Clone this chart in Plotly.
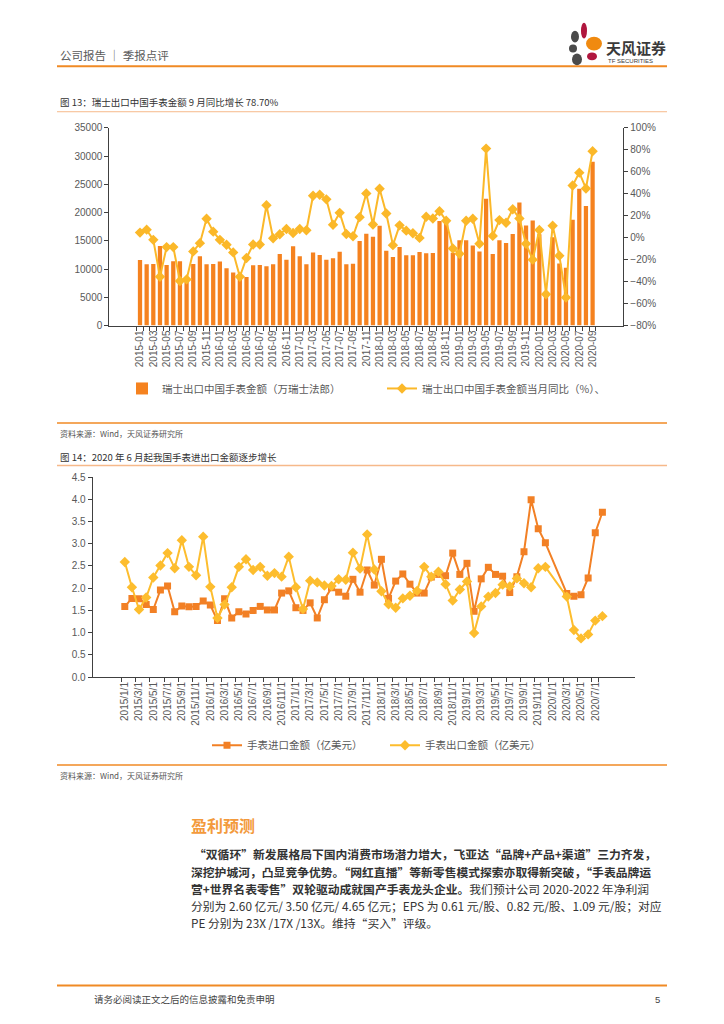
import plotly.graph_objects as go

W, H = 724, 1024

# ---------------- data: chart 1 (图13) ----------------
months1 = [f"{y}-{m:02d}" for y in range(2015, 2021) for m in range(1, 13)][:69]
swiss_export = [11600, 10850, 10900, 14100, 10700, 11400, 11400, 8000, 10900, 12250,
                10850, 10900, 11350, 10150, 9400, 8500, 8600, 10650, 10700, 10500,
                10850, 12650, 11650, 14050, 12250, 10850, 12950, 12500, 11650, 11900,
                13050, 10850, 10950, 14950, 16250, 15700, 17650, 13250, 12150, 13900,
                12450, 12450, 13000, 12800, 12850, 18500, 18400, 12900, 15100, 15100,
                14150, 13100, 22450, 12650, 15100, 14600, 16200, 21800, 17700, 18600,
                16150, 6000, 15650, 11000, 10250, 18750, 24200, 21150, 29000]
swiss_yoy = [4.6, 7.3, -2.0, -35.6, -8.6, -8.6, -39.5, -38.0, -12.5, -5.0,
             17.2, 5.5, -2.0, -6.5, -13.4, -35.6, -18.5, -6.2, -6.2, 29.5,
             -0.5, 3.1, 7.9, 4.3, 7.9, 6.7, 38.2, 39.1, 34.9, 11.8,
             22.6, 3.4, 1.3, 18.7, 40.3, 12.0, 44.5, 22.0, -6.8, 11.2,
             6.4, 4.0, -0.2, 19.0, 17.5, 24.1, 15.4, -9.8, -14.6, 15.4,
             17.2, -5.6, 81.1, 1.6, 16.0, 13.6, 25.9, 17.5, -5.6, -20.0,
             7.0, -51.5, 10.9, -16.4, -54.5, 47.5, 59.2, 44.8, 78.7]
ticktext1 = [m if i % 2 == 0 else "" for i, m in enumerate(months1)]

# ---------------- data: chart 2 (图14) ----------------
months2 = [f"{y}/{m}/1" for y in range(2015, 2021) for m in range(1, 13)][:68]
watch_import = [1.59, 1.77, 1.76, 1.63, 1.52, 1.96, 2.05, 1.47, 1.60, 1.58, 1.59, 1.71,
                1.62, 1.27, 1.76, 1.33, 1.47, 1.42, 1.50, 1.59, 1.51, 1.51, 1.89, 1.94,
                1.56, 1.50, 1.67, 1.33, 1.74, 2.01, 1.91, 1.82, 2.20, 1.91, 2.41, 2.07,
                2.65, 1.77, 2.16, 2.32, 2.09, 1.89, 1.89, 2.25, 2.31, 2.28, 2.79, 2.31,
                2.56, 1.48, 2.21, 2.47, 2.31, 2.27, 1.90, 2.26, 2.82, 3.99, 3.34, 3.02,
                None, None, 1.88, 1.82, 1.85, 2.23, 3.25, 3.71]
watch_export = [2.59, 2.02, 1.52, 1.79, 2.24, 2.51, 2.79, 2.45, 3.08, 2.48, 2.29, 3.16,
                2.03, 1.33, 1.63, 2.02, 2.48, 2.65, 2.41, 2.48, 2.28, 2.34, 2.26, 2.71,
                2.02, 1.53, 2.17, 2.13, 2.06, 2.05, 2.20, 2.19, 2.80, 2.44, 3.21, 2.42,
                1.93, 1.64, 1.56, 1.77, 1.83, 1.94, 2.48, 2.26, 2.37, 2.09, 1.72, 1.97,
                2.15, 0.99, 1.59, 1.81, 1.89, 2.08, 2.04, 2.22, 2.11, 2.02, 2.45, 2.48,
                None, None, 1.81, 1.06, 0.87, 0.96, 1.27, 1.37]
tickvals2 = months2[::2]


def px(x):
    return x / W


def py(y):
    return 1 - y / H


FONT = "Liberation Sans, Noto Sans CJK SC, sans-serif"
CJK = "Noto Sans CJK SC, sans-serif"
AX = "#404040"
TXT = "#595959"
ORANGE = "#F5821F"
YELLOW = "#FBB829"
ORANGE2 = "#F28025"
YELLOW2 = "#FDBD2E"

fig = go.Figure()

fig.add_trace(go.Bar(x=months1, y=swiss_export, name="瑞士出口中国手表金额（万瑞士法郎）",
                     marker=dict(color=ORANGE, line=dict(width=0)),
                     xaxis="x", yaxis="y", legend="legend"))
fig.add_trace(go.Scatter(x=months1, y=swiss_yoy, name="瑞士出口中国手表金额当月同比（%）、",
                         mode="lines+markers", line=dict(color=YELLOW, width=2),
                         marker=dict(symbol="diamond", size=8, color=YELLOW),
                         xaxis="x", yaxis="y2", legend="legend"))

fig.add_trace(go.Scatter(x=months2, y=watch_import, name="手表进口金额（亿美元）",
                         mode="lines+markers", connectgaps=True,
                         line=dict(color=ORANGE2, width=2),
                         marker=dict(symbol="square", size=7, color=ORANGE2),
                         xaxis="x2", yaxis="y3", legend="legend2"))
fig.add_trace(go.Scatter(x=months2, y=watch_export, name="手表出口金额（亿美元）",
                         mode="lines+markers", connectgaps=True,
                         line=dict(color=YELLOW2, width=2),
                         marker=dict(symbol="diamond", size=8, color=YELLOW2),
                         xaxis="x2", yaxis="y3", legend="legend2"))

axis_common = dict(showline=True, linecolor=AX, linewidth=1, ticks="outside",
                   ticklen=4, tickcolor=AX, showgrid=False, zeroline=False,
                   tickfont=dict(family=FONT, size=10, color=TXT))

fig.update_layout(
    width=W, height=H, margin=dict(l=0, r=0, t=0, b=0),
    paper_bgcolor="white", plot_bgcolor="white", bargap=0.36,
    showlegend=True,
    xaxis=dict(domain=[px(109.3), px(623.3)], anchor="y", type="category",
               tickmode="array", tickvals=months1, ticktext=ticktext1,
               tickson="boundaries", tickangle=-90, **axis_common),
    yaxis=dict(domain=[py(323.3), py(123.3)], anchor="x", range=[0, 35000],
               dtick=5000, tickformat="d", **axis_common),
    yaxis2=dict(overlaying="y", anchor="x", side="right", range=[-80, 100], dtick=20,
                ticksuffix="%", **axis_common),
    xaxis2=dict(domain=[px(92.7), px(634.5)], anchor="y3", type="category",
                tickmode="array", tickvals=tickvals2, ticktext=tickvals2,
                tickson="boundaries", tickangle=-90, **axis_common),
    yaxis3=dict(domain=[py(679), py(476.7)], anchor="x2", range=[0, 4.5], dtick=0.5,
                tickformat=".1f", **axis_common),
    legend=dict(orientation="h", x=px(122), xanchor="left", y=py(387), yanchor="middle",
                font=dict(family=CJK, size=10.5, color=TXT), entrywidth=215,
                itemwidth=30, bgcolor="rgba(0,0,0,0)"),
    legend2=dict(orientation="h", x=px(207), xanchor="left", y=py(748), yanchor="middle",
                 font=dict(family=CJK, size=10.5, color=TXT), entrywidth=133,
                 itemwidth=30, bgcolor="rgba(0,0,0,0)"),
)

shapes = []
# orange rule lines
for y, c, w in [(61, "#F08A24", 2), (107, "#F6B98A", 1), (422, "#F08A24", 1.5),
                (465, "#F6B98A", 1.5), (768, "#F08A24", 1.5), (991, "#F08A24", 2)]:
    shapes.append(dict(type="line", xref="paper", yref="paper", x0=px(57), x1=px(667),
                       y0=py(y), y1=py(y), line=dict(color=c, width=w)))

# logo petals (ellipses)
for cx, cy, rx, ry, col in [(575, 31, 4, 6, "#4A4A4A"), (584, 25, 3, 8, "#B0163E"),
                            (594, 38, 8, 7, "#F08A10"), (573, 43, 4, 4, "#4A4A4A"),
                            (592, 51, 5, 4, "#B0163E"), (577, 54, 5, 6, "#4A4A4A")]:
    shapes.append(dict(type="circle", xref="paper", yref="paper",
                       x0=px(cx - rx), x1=px(cx + rx), y0=py(cy + ry), y1=py(cy - ry),
                       fillcolor=col, line=dict(width=0)))
fig.update_layout(shapes=shapes)

ann = []


def text(x, y, s, size, color, family=CJK, anchor="left"):
    ann.append(dict(xref="paper", yref="paper", x=px(x), y=py(y), text=s, showarrow=False,
                    xanchor=anchor, yanchor="middle",
                    font=dict(family=family, size=size, color=color)))


text(58, 50, "公司报告 │ 季报点评", 11.5, "#5a5a5a")
text(604, 42, "<b>天风证券</b>", 15, "#3a3a3a")
text(606, 55.5, "TF SECURITIES", 6, "#3a3a3a", FONT)
text(58, 97, "图 13：瑞士出口中国手表金额 9 月同比增长 78.70%", 9.5, "#333333")
text(58, 433, "资料来源：Wind，天风证券研究所", 8, "#555555")
text(58, 456, "图 14：2020 年 6 月起我国手表进出口金额逐步增长", 9.5, "#333333")
text(58, 779, "资料来源：Wind，天风证券研究所", 8, "#555555")
text(189, 829, "<b>盈利预测</b>", 16, "#F39A3C")

para = [
    "<b>“双循环”新发展格局下国内消费市场潜力增大，飞亚达“品牌+产品+渠道”三力齐发，</b>",
    "<b>深挖护城河，凸显竞争优势。“网红直播”等新零售模式探索亦取得新突破，“手表品牌运</b>",
    "<b>营+世界名表零售”双轮驱动成就国产手表龙头企业。</b>我们预计公司 2020-2022 年净利润",
    "分别为 2.60 亿元/ 3.50 亿元/ 4.65 亿元；EPS 为 0.61 元/股、0.82 元/股、1.09 元/股；对应",
    "PE 分别为 23X /17X /13X。维持“买入”评级。",
]
for i, line in enumerate(para):
    text(192 if i == 0 else 189, 858 + i * 17.3, line, 11.8, "#333333")

text(92, 1005, "请务必阅读正文之后的信息披露和免责申明", 9.5, "#444444")
text(662, 1005, "5", 9.5, "#444444", FONT, "right")

fig.update_layout(annotations=ann)
fig.write_html("out.html", config={"displayModeBar": False},
               post_script="document.body.style.margin='0';document.body.style.overflow='hidden';")
